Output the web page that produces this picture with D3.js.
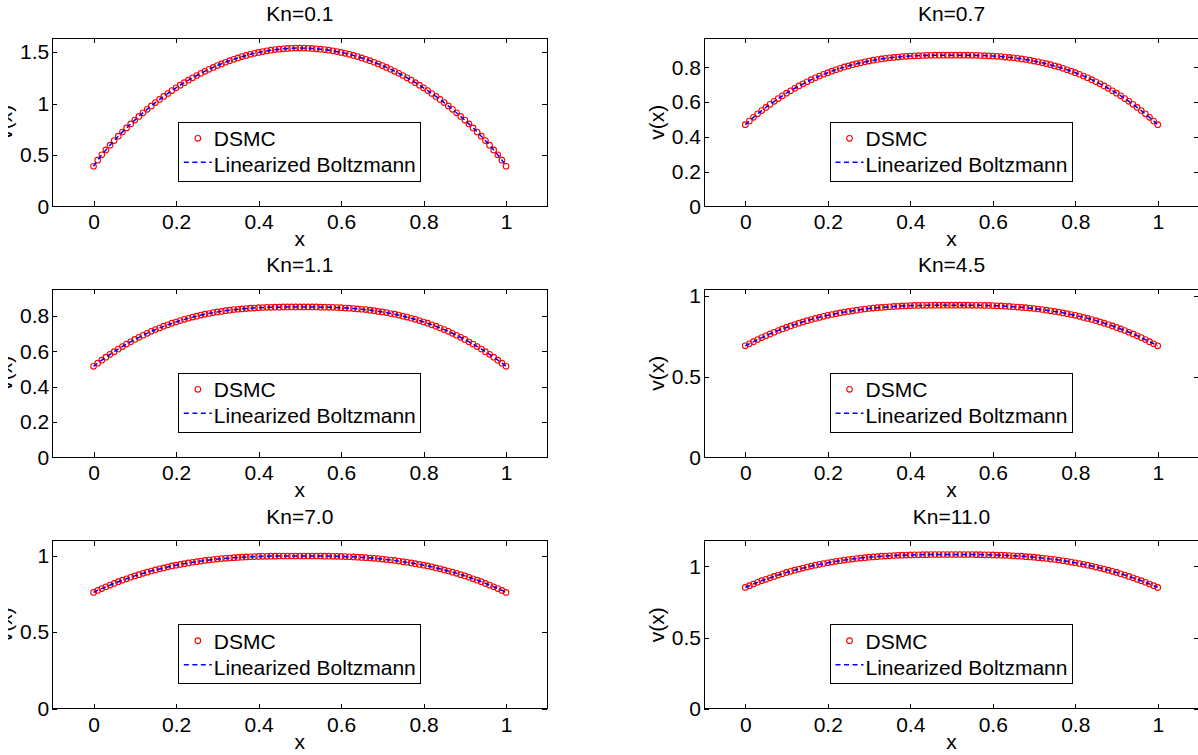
<!DOCTYPE html>
<html>
<head>
<meta charset="utf-8">
<script src="https://cdn.jsdelivr.net/npm/d3@7"></script>
<style>
  html, body { margin: 0; padding: 0; background: #fff; }
  svg { display: block; font-family: "Liberation Sans", Arial, Helvetica, sans-serif; }
</style>
</head>
<body>
<svg id="chart" width="1198" height="755"></svg>
<script>

// ---- data ----

const titles = ['Kn=0.1', 'Kn=0.7', 'Kn=1.1', 'Kn=4.5', 'Kn=7.0', 'Kn=11.0'];
const yMax = [1.635, 0.967, 0.951, 1.04, 1.098, 1.18];
const yTicks = [
  [0, 0.5, 1, 1.5],
  [0, 0.2, 0.4, 0.6, 0.8],
  [0, 0.2, 0.4, 0.6, 0.8],
  [0, 0.5, 1],
  [0, 0.5, 1],
  [0, 0.5, 1]
];
const xTicks = [0, 0.2, 0.4, 0.6, 0.8, 1];
const xDomain = [-0.1, 1.1];

// DSMC sample positions
const xGrid = [
  0.00, 0.01, 0.02, 0.03, 0.04, 0.05, 0.06, 0.07, 0.08, 0.09,
  0.10, 0.11, 0.12, 0.13, 0.14, 0.15, 0.16, 0.17, 0.18, 0.19,
  0.20, 0.21, 0.22, 0.23, 0.24, 0.25, 0.26, 0.27, 0.28, 0.29,
  0.30, 0.31, 0.32, 0.33, 0.34, 0.35, 0.36, 0.37, 0.38, 0.39,
  0.40, 0.41, 0.42, 0.43, 0.44, 0.45, 0.46, 0.47, 0.48, 0.49,
  0.50, 0.51, 0.52, 0.53, 0.54, 0.55, 0.56, 0.57, 0.58, 0.59,
  0.60, 0.61, 0.62, 0.63, 0.64, 0.65, 0.66, 0.67, 0.68, 0.69,
  0.70, 0.71, 0.72, 0.73, 0.74, 0.75, 0.76, 0.77, 0.78, 0.79,
  0.80, 0.81, 0.82, 0.83, 0.84, 0.85, 0.86, 0.87, 0.88, 0.89,
  0.90, 0.91, 0.92, 0.93, 0.94, 0.95, 0.96, 0.97, 0.98, 0.99,
  1.00
];

const dsmcKn01 = [
  0.390, 0.449, 0.501, 0.549, 0.595, 0.640, 0.682, 0.723, 0.763, 0.802,
  0.839, 0.875, 0.910, 0.944, 0.977, 1.009, 1.040, 1.069, 1.098, 1.126,
  1.153, 1.179, 1.203, 1.227, 1.250, 1.273, 1.294, 1.314, 1.333, 1.352,
  1.370, 1.386, 1.402, 1.417, 1.431, 1.444, 1.457, 1.468, 1.479, 1.489,
  1.498, 1.506, 1.513, 1.519, 1.525, 1.529, 1.533, 1.536, 1.538, 1.540,
  1.540, 1.540, 1.538, 1.536, 1.533, 1.529, 1.525, 1.519, 1.513, 1.506,
  1.498, 1.489, 1.479, 1.468, 1.457, 1.444, 1.431, 1.417, 1.402, 1.386,
  1.370, 1.352, 1.333, 1.314, 1.294, 1.273, 1.250, 1.227, 1.203, 1.179,
  1.153, 1.126, 1.098, 1.069, 1.040, 1.009, 0.977, 0.944, 0.910, 0.875,
  0.839, 0.802, 0.763, 0.723, 0.682, 0.640, 0.595, 0.549, 0.501, 0.449,
  0.390
];

const dsmcKn07 = [
  0.470, 0.491, 0.512, 0.532, 0.551, 0.569, 0.587, 0.604, 0.620, 0.636,
  0.651, 0.665, 0.679, 0.693, 0.705, 0.717, 0.729, 0.740, 0.750, 0.760,
  0.769, 0.778, 0.786, 0.794, 0.802, 0.808, 0.815, 0.821, 0.826, 0.832,
  0.836, 0.841, 0.845, 0.848, 0.852, 0.855, 0.857, 0.859, 0.862, 0.863,
  0.865, 0.866, 0.867, 0.868, 0.869, 0.869, 0.870, 0.870, 0.870, 0.870,
  0.870, 0.870, 0.870, 0.870, 0.870, 0.869, 0.869, 0.868, 0.867, 0.866,
  0.865, 0.863, 0.862, 0.859, 0.857, 0.855, 0.852, 0.848, 0.845, 0.841,
  0.836, 0.832, 0.826, 0.821, 0.815, 0.808, 0.802, 0.794, 0.786, 0.778,
  0.769, 0.760, 0.750, 0.740, 0.729, 0.717, 0.705, 0.693, 0.679, 0.665,
  0.651, 0.636, 0.620, 0.604, 0.587, 0.569, 0.551, 0.532, 0.512, 0.491,
  0.470
];

const dsmcKn11 = [
  0.515, 0.533, 0.550, 0.567, 0.583, 0.598, 0.613, 0.627, 0.641, 0.654,
  0.667, 0.679, 0.691, 0.702, 0.713, 0.723, 0.732, 0.742, 0.750, 0.759,
  0.766, 0.774, 0.781, 0.787, 0.794, 0.799, 0.805, 0.810, 0.814, 0.819,
  0.823, 0.826, 0.830, 0.833, 0.836, 0.838, 0.840, 0.842, 0.844, 0.845,
  0.847, 0.848, 0.849, 0.849, 0.850, 0.850, 0.851, 0.851, 0.851, 0.851,
  0.851, 0.851, 0.851, 0.851, 0.851, 0.850, 0.850, 0.849, 0.849, 0.848,
  0.847, 0.845, 0.844, 0.842, 0.840, 0.838, 0.836, 0.833, 0.830, 0.826,
  0.823, 0.819, 0.814, 0.810, 0.805, 0.799, 0.794, 0.787, 0.781, 0.774,
  0.766, 0.759, 0.750, 0.742, 0.732, 0.723, 0.713, 0.702, 0.691, 0.679,
  0.667, 0.654, 0.641, 0.627, 0.613, 0.598, 0.583, 0.567, 0.550, 0.533,
  0.515
];

const dsmcKn45 = [
  0.690, 0.703, 0.716, 0.729, 0.741, 0.752, 0.764, 0.774, 0.785, 0.795,
  0.804, 0.813, 0.822, 0.830, 0.838, 0.846, 0.853, 0.860, 0.866, 0.873,
  0.879, 0.884, 0.889, 0.894, 0.899, 0.903, 0.907, 0.911, 0.915, 0.918,
  0.921, 0.924, 0.926, 0.928, 0.930, 0.932, 0.934, 0.935, 0.937, 0.938,
  0.939, 0.940, 0.940, 0.941, 0.941, 0.941, 0.942, 0.942, 0.942, 0.942,
  0.942, 0.942, 0.942, 0.942, 0.942, 0.941, 0.941, 0.941, 0.940, 0.940,
  0.939, 0.938, 0.937, 0.935, 0.934, 0.932, 0.930, 0.928, 0.926, 0.924,
  0.921, 0.918, 0.915, 0.911, 0.907, 0.903, 0.899, 0.894, 0.889, 0.884,
  0.879, 0.873, 0.866, 0.860, 0.853, 0.846, 0.838, 0.830, 0.822, 0.813,
  0.804, 0.795, 0.785, 0.774, 0.764, 0.752, 0.741, 0.729, 0.716, 0.703,
  0.690
];

const dsmcKn70 = [
  0.760, 0.773, 0.785, 0.797, 0.808, 0.819, 0.830, 0.840, 0.849, 0.859,
  0.868, 0.876, 0.885, 0.892, 0.900, 0.907, 0.914, 0.920, 0.927, 0.933,
  0.938, 0.943, 0.948, 0.953, 0.957, 0.961, 0.965, 0.969, 0.972, 0.975,
  0.978, 0.981, 0.983, 0.985, 0.987, 0.989, 0.990, 0.992, 0.993, 0.994,
  0.995, 0.996, 0.996, 0.997, 0.997, 0.998, 0.998, 0.998, 0.998, 0.998,
  0.998, 0.998, 0.998, 0.998, 0.998, 0.998, 0.997, 0.997, 0.996, 0.996,
  0.995, 0.994, 0.993, 0.992, 0.990, 0.989, 0.987, 0.985, 0.983, 0.981,
  0.978, 0.975, 0.972, 0.969, 0.965, 0.961, 0.957, 0.953, 0.948, 0.943,
  0.938, 0.933, 0.927, 0.920, 0.914, 0.907, 0.900, 0.892, 0.885, 0.876,
  0.868, 0.859, 0.849, 0.840, 0.830, 0.819, 0.808, 0.797, 0.785, 0.773,
  0.760
];

const dsmcKn110 = [
  0.852, 0.864, 0.876, 0.888, 0.899, 0.909, 0.919, 0.929, 0.939, 0.948,
  0.957, 0.965, 0.973, 0.981, 0.988, 0.995, 1.002, 1.008, 1.014, 1.020,
  1.025, 1.030, 1.035, 1.039, 1.044, 1.048, 1.051, 1.055, 1.058, 1.061,
  1.064, 1.066, 1.068, 1.071, 1.072, 1.074, 1.076, 1.077, 1.078, 1.079,
  1.080, 1.081, 1.081, 1.082, 1.082, 1.083, 1.083, 1.083, 1.083, 1.083,
  1.083, 1.083, 1.083, 1.083, 1.083, 1.083, 1.082, 1.082, 1.081, 1.081,
  1.080, 1.079, 1.078, 1.077, 1.076, 1.074, 1.072, 1.071, 1.068, 1.066,
  1.064, 1.061, 1.058, 1.055, 1.051, 1.048, 1.044, 1.039, 1.035, 1.030,
  1.025, 1.020, 1.014, 1.008, 1.002, 0.995, 0.988, 0.981, 0.973, 0.965,
  0.957, 0.948, 0.939, 0.929, 0.919, 0.909, 0.899, 0.888, 0.876, 0.864,
  0.852
];

// linearized Boltzmann solution, sampled along the dashed curve
const lbX = [
  0, 0.01, 0.02, 0.04, 0.06, 0.08, 0.1, 0.15, 0.2, 0.25, 0.3, 0.35, 0.4, 0.45, 0.5,
  0.55, 0.6, 0.65, 0.7, 0.75, 0.8, 0.85, 0.9, 0.92, 0.94, 0.96, 0.98, 0.99, 1
];
const lbKn01 = [
  0.390, 0.449, 0.501, 0.595, 0.682, 0.763, 0.839, 1.009, 1.153, 1.273, 1.370, 1.444, 1.498, 1.529, 1.540,
  1.529, 1.498, 1.444, 1.370, 1.273, 1.153, 1.009, 0.839, 0.763, 0.682, 0.595, 0.501, 0.449, 0.390
];
const lbKn07 = [
  0.470, 0.491, 0.512, 0.551, 0.587, 0.620, 0.651, 0.717, 0.769, 0.808, 0.836, 0.855, 0.865, 0.869, 0.870,
  0.869, 0.865, 0.855, 0.836, 0.808, 0.769, 0.717, 0.651, 0.620, 0.587, 0.551, 0.512, 0.491, 0.470
];
const lbKn11 = [
  0.515, 0.533, 0.550, 0.583, 0.613, 0.641, 0.667, 0.723, 0.766, 0.799, 0.823, 0.838, 0.847, 0.850, 0.851,
  0.850, 0.847, 0.838, 0.823, 0.799, 0.766, 0.723, 0.667, 0.641, 0.613, 0.583, 0.550, 0.533, 0.515
];
const lbKn45 = [
  0.690, 0.703, 0.716, 0.741, 0.764, 0.785, 0.804, 0.846, 0.879, 0.903, 0.921, 0.932, 0.939, 0.941, 0.942,
  0.941, 0.939, 0.932, 0.921, 0.903, 0.879, 0.846, 0.804, 0.785, 0.764, 0.741, 0.716, 0.703, 0.690
];
const lbKn70 = [
  0.760, 0.773, 0.785, 0.808, 0.830, 0.849, 0.868, 0.907, 0.938, 0.961, 0.978, 0.989, 0.995, 0.998, 0.998,
  0.998, 0.995, 0.989, 0.978, 0.961, 0.938, 0.907, 0.868, 0.849, 0.830, 0.808, 0.785, 0.773, 0.760
];
const lbKn110 = [
  0.852, 0.864, 0.876, 0.899, 0.919, 0.939, 0.957, 0.995, 1.025, 1.048, 1.064, 1.074, 1.080, 1.083, 1.083,
  1.083, 1.080, 1.074, 1.064, 1.048, 1.025, 0.995, 0.957, 0.939, 0.919, 0.899, 0.876, 0.864, 0.852
];

const dsmcSeries = [dsmcKn01, dsmcKn07, dsmcKn11, dsmcKn45, dsmcKn70, dsmcKn110];
const lbSeries = [lbKn01, lbKn07, lbKn11, lbKn45, lbKn70, lbKn110];
const legendLabels = ['DSMC', 'Linearized Boltzmann'];


// ---- layout ----

const colX = [52.3, 704];
const rowY = [38.3, 289.3, 540.7];
const panelWidth = 495;
const panelHeight = 168;
const fontSize = 21;
const markerRadius = 2.8;


/**
 * @private
 * @class
 */
class Panel {


  /**
   * @public
   * @constructor
   */
  constructor() {

    this._left = 0;
    this._top = 0;
  }


  /**
   * @public
   * @static
   * @returns {Panel}
   */
  static getInstance() {

    return new Panel();
  }


  /**
   * Set data.
   * @public
   * @param {Object} data
   * @returns {Panel}
   */
  setData(data) {

    this._data = data;
    return this;
  }


  /**
   * Set top left corner of the axes box.
   * @public
   * @returns {Panel}
   */
  setOrigin(left, top) {

    this._left = left;
    this._top = top;
    return this;
  }


  /**
   * Render panel.
   * @public
   * @param {SVGElement} container
   * @returns {Panel}
   */
  renderTo(container) {

    const d = this._data;
    const w = panelWidth;
    const h = panelHeight;

    this._xScale = d3.scaleLinear().domain(xDomain).range([0, w]);
    this._yScale = d3.scaleLinear().domain([0, d.yMax]).range([h, 0]);

    this._container = d3.select(container)
      .append('g')
      .attr('class', 'panel')
      .attr('transform', `translate(${this._left},${this._top})`);

    this.renderAxes();
    this.renderSeries();
    this.renderLegend();
    this.renderLabels();

    return this;
  }


  /**
   * Box, ticks and tick labels.
   * @public
   */
  renderAxes() {

    const g = this._container;
    const w = panelWidth;
    const h = panelHeight;
    const fmt = v => String(v);

    const style = sel => {
      sel.attr('font-size', fontSize).attr('font-family', null);
      sel.select('.domain').remove();
      sel.selectAll('line').attr('stroke', '#000').attr('shape-rendering', 'crispEdges');
      sel.selectAll('text').attr('fill', '#000');
    };

    g.append('g')
      .attr('transform', `translate(0,${h})`)
      .call(d3.axisBottom(this._xScale).tickValues(xTicks).tickSizeInner(-5)
        .tickSizeOuter(0).tickPadding(8).tickFormat(fmt))
      .call(style);

    g.append('g')
      .call(d3.axisTop(this._xScale).tickValues(xTicks).tickSizeInner(-5)
        .tickSizeOuter(0).tickFormat(''))
      .call(style);

    g.append('g')
      .call(d3.axisLeft(this._yScale).tickValues(this._data.yTicks).tickSizeInner(-5)
        .tickSizeOuter(0).tickPadding(3).tickFormat(fmt))
      .call(style);

    g.append('g')
      .attr('transform', `translate(${w},0)`)
      .call(d3.axisRight(this._yScale).tickValues(this._data.yTicks).tickSizeInner(-5)
        .tickSizeOuter(0).tickFormat(''))
      .call(style);

    g.append('rect')
      .attr('class', 'frame')
      .attr('width', w)
      .attr('height', h)
      .attr('fill', 'none')
      .attr('stroke', '#000')
      .attr('stroke-width', 1)
      .attr('shape-rendering', 'crispEdges');
  }


  /**
   * DSMC markers and the dashed Boltzmann curve.
   * @public
   */
  renderSeries() {

    const d = this._data;

    this._container.append('g')
      .attr('class', 'dsmc')
      .selectAll('circle')
      .data(d.dsmc.map((v, i) => [xGrid[i], v]))
      .enter()
      .append('circle')
      .attr('cx', p => this._xScale(p[0]))
      .attr('cy', p => this._yScale(p[1]))
      .attr('r', markerRadius)
      .attr('fill', 'none')
      .attr('stroke', '#ff0000')
      .attr('stroke-width', 1.1);

    const line = d3.line()
      .x(p => this._xScale(p[0]))
      .y(p => this._yScale(p[1]))
      .curve(d3.curveMonotoneX);

    this._container.append('path')
      .attr('class', 'boltzmann')
      .attr('d', line(d.lb.map((v, i) => [lbX[i], v])))
      .attr('fill', 'none')
      .attr('stroke', '#0000ff')
      .attr('stroke-width', 1.5)
      .attr('stroke-dasharray', '5,3.5');
  }


  /**
   * Legend box under the curve.
   * @public
   */
  renderLegend() {

    const legend = this._container.append('g').attr('class', 'legend');

    const box = legend.append('rect')
      .attr('fill', '#fff')
      .attr('stroke', '#000')
      .attr('stroke-width', 1)
      .attr('shape-rendering', 'crispEdges')
      .attr('height', 59);

    legend.append('circle')
      .attr('cx', 19)
      .attr('cy', 16)
      .attr('r', markerRadius)
      .attr('fill', 'none')
      .attr('stroke', '#ff0000')
      .attr('stroke-width', 1.1);

    legend.append('line')
      .attr('x1', 5)
      .attr('x2', 33)
      .attr('y1', 40)
      .attr('y2', 40)
      .attr('stroke', '#0000ff')
      .attr('stroke-width', 1.5)
      .attr('stroke-dasharray', '5,3.5');

    const texts = legend.selectAll('text.entry')
      .data(legendLabels)
      .enter()
      .append('text')
      .attr('class', 'entry')
      .attr('x', 35)
      .attr('y', (t, i) => i === 0 ? 24 : 50)
      .attr('font-size', fontSize)
      .text(t => t);

    const textWidth = d3.max(texts.nodes(), n => n.getComputedTextLength());
    const width = 35 + textWidth + 5;

    box.attr('width', width);
    legend.attr('transform', `translate(${(panelWidth - width) / 2},${panelHeight - 84})`);
  }


  /**
   * Title and axis labels.
   * @public
   */
  renderLabels() {

    const g = this._container;

    g.append('text')
      .attr('class', 'title')
      .attr('x', panelWidth / 2)
      .attr('y', -17)
      .attr('text-anchor', 'middle')
      .attr('font-size', fontSize)
      .text(this._data.title);

    g.append('text')
      .attr('class', 'xlabel')
      .attr('x', panelWidth / 2)
      .attr('y', panelHeight + 40)
      .attr('text-anchor', 'middle')
      .attr('font-size', fontSize)
      .text('x');

    g.append('text')
      .attr('class', 'ylabel')
      .attr('transform', `translate(-40,${panelHeight / 2}) rotate(-90)`)
      .attr('text-anchor', 'middle')
      .attr('font-size', fontSize)
      .text('v(x)');
  }
}


const svg = d3.select('#chart');

svg.append('rect')
  .attr('width', 1198)
  .attr('height', 755)
  .attr('fill', '#fff');

// the source figure is cropped a little on its left side
svg.append('clipPath')
  .attr('id', 'page-crop')
  .append('rect')
  .attr('x', 8)
  .attr('y', 0)
  .attr('width', 1190)
  .attr('height', 755);

const page = svg.append('g').attr('clip-path', 'url(#page-crop)');

titles.forEach((title, i) => {
  Panel.getInstance()
    .setData({
      title: title,
      yMax: yMax[i],
      yTicks: yTicks[i],
      dsmc: dsmcSeries[i],
      lb: lbSeries[i]
    })
    .setOrigin(colX[i % 2], rowY[Math.floor(i / 2)])
    .renderTo(page.node());
});

</script>
</body>
</html>
